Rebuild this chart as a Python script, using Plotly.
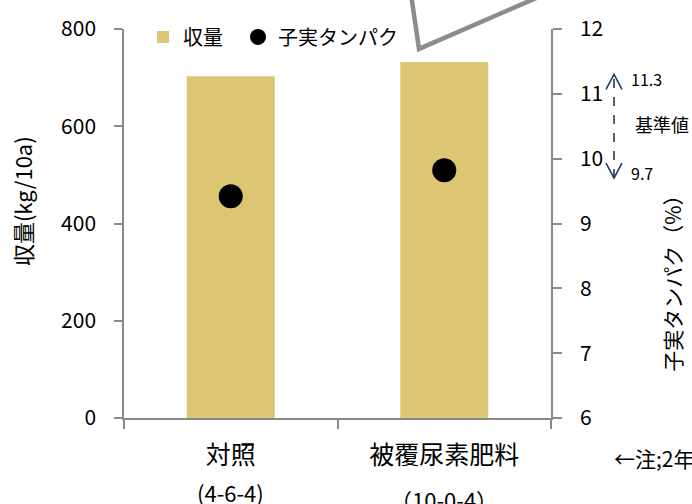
import plotly.graph_objects as go

# ---- data ----
categories = ["対照", "被覆尿素肥料"]
formulas = ["(4-6-4)", "（10-0-4）"]
yield_kg = [703, 732]
protein_pct = [9.42, 9.82]
standard_low = 9.7
standard_high = 11.3
y1_ticks = [0, 200, 400, 600, 800]
y2_ticks = [6, 7, 8, 9, 10, 11, 12]

FONT = "Noto Sans CJK JP"
AX = "#898989"
GOLD = "#DCC673"
NAVY = "#1F3A60"

# plot area geometry (pixels)
L, R, T, B = 124, 551, 27, 418
W, H = 692, 504


def px(xp, yp):
    return (xp - L) / (R - L), (B - yp) / (B - T)


fig = go.Figure()
fig.add_trace(go.Bar(
    x=categories, y=yield_kg, name="収量\u2002",
    marker=dict(color=GOLD, line=dict(width=0)),
    yaxis="y",
))
fig.add_trace(go.Scatter(
    x=categories, y=protein_pct, name="子実タンパク", mode="markers",
    marker=dict(color="black", size=24, symbol="circle"),
    yaxis="y2",
))

shapes = []
# callout line (decoration, partially off-canvas)
p1 = px(411, -8)
p2 = px(419, 47)
p3 = px(545, -8)
shapes.append(dict(
    type="path", xref="paper", yref="paper",
    path=f"M{p1[0]},{p1[1]} L{p2[0]},{p2[1]} L{p3[0]},{p3[1]}",
    line=dict(color="#8C8C8C", width=4.5),
))
# dashed reference range arrow
ax_x = px(614, 0)[0]
shapes.append(dict(
    type="line", xref="paper", yref="y2",
    x0=ax_x, x1=ax_x, y0=standard_low, y1=standard_high,
    line=dict(color=NAVY, width=1.6, dash="dash"),
))
shapes.append(dict(
    type="path", xref="paper", yref="y2",
    xsizemode="pixel", ysizemode="pixel",
    xanchor=ax_x, yanchor=standard_high,
    path="M-8,-15 L0,0 L8,-15",
    line=dict(color=NAVY, width=1.6),
))
shapes.append(dict(
    type="path", xref="paper", yref="y2",
    xsizemode="pixel", ysizemode="pixel",
    xanchor=ax_x, yanchor=standard_low,
    path="M-8,15 L0,0 L8,15",
    line=dict(color=NAVY, width=1.6),
))

annotations = []
tx = px(629, 0)[0]
annotations.append(dict(x=tx, y=standard_high, xref="paper", yref="y2",
                        text=f"{standard_high}", showarrow=False,
                        xanchor="left", yanchor="middle", yshift=-5,
                        font=dict(size=16, color="#000", family=FONT)))
annotations.append(dict(x=tx, y=standard_low, xref="paper", yref="y2",
                        text=f"{standard_low}", showarrow=False,
                        xanchor="left", yanchor="middle", yshift=5,
                        font=dict(size=16, color="#000", family=FONT)))
annotations.append(dict(x=px(633, 0)[0], y=(standard_low + standard_high) / 2,
                        xref="paper", yref="y2",
                        text="基準値", showarrow=False,
                        xanchor="left", yanchor="middle", yshift=2,
                        font=dict(size=18, color="#000", family=FONT)))
# formula lines under category labels
for cat, f, yy in zip(categories, formulas, [492, 499]):
    annotations.append(dict(x=cat, y=px(0, yy)[1], xref="x", yref="paper",
                            text=f, showarrow=False, xanchor="center",
                            yanchor="middle",
                            font=dict(size=22, color="#000", family=FONT)))
# axis titles
lx, ly = px(22, 200)
annotations.append(dict(x=lx, y=ly, xref="paper", yref="paper",
                        text="収量(kg/10a)", textangle=-90, showarrow=False,
                        xanchor="center", yanchor="middle",
                        font=dict(size=22, color="#000", family=FONT)))
rx, ry = px(672, 278)
annotations.append(dict(x=rx, y=ry, xref="paper", yref="paper",
                        text="子実タンパク（%）", textangle=-90, showarrow=False,
                        xanchor="center", yanchor="middle",
                        font=dict(size=21, color="#000", family=FONT)))
nx, ny = px(612, 458)
annotations.append(dict(x=nx, y=ny, xref="paper", yref="paper",
                        text="←注;2年平均", showarrow=False,
                        xanchor="left", yanchor="middle",
                        font=dict(size=21, color="#000", family=FONT)))

lgx, lgy = px(143, 35)
fig.update_layout(
    width=W, height=H,
    margin=dict(l=L, r=W - R, t=T, b=H - B, pad=0),
    paper_bgcolor="white", plot_bgcolor="white",
    font=dict(family=FONT, color="#000"),
    bargap=0.588,
    showlegend=True,
    legend=dict(orientation="h", x=lgx, y=lgy, xanchor="left", yanchor="middle",
                font=dict(size=20, family=FONT, color="#000"),
                bgcolor="rgba(0,0,0,0)", itemsizing="trace", tracegroupgap=0),
    xaxis=dict(
        type="category", range=[-0.5, 1.5],
        showline=True, linecolor=AX, linewidth=2,
        ticks="outside", ticklen=9, tickcolor=AX, tickwidth=1.5,
        tickson="boundaries",
        tickfont=dict(size=25, family=FONT, color="#000"),
        ticklabelstandoff=14,
        showgrid=False, zeroline=False,
    ),
    yaxis=dict(
        range=[0, 800], tickvals=y1_ticks,
        showline=True, linecolor=AX, linewidth=1.5,
        ticks="outside", ticklen=8, tickcolor=AX, tickwidth=1.5,
        tickfont=dict(size=21, family=FONT, color="#000"),
        ticklabelstandoff=14,
        showgrid=False, zeroline=False,
    ),
    yaxis2=dict(
        range=[6, 12], tickvals=y2_ticks, overlaying="y", side="right",
        showline=True, linecolor=AX, linewidth=1.5,
        ticks="outside", ticklen=9, tickcolor=AX, tickwidth=1.5,
        tickfont=dict(size=21, family=FONT, color="#000"),
        ticklabelstandoff=14,
        showgrid=False, zeroline=False,
    ),
    shapes=shapes,
    annotations=annotations,
)

fig.write_html("out.html")
